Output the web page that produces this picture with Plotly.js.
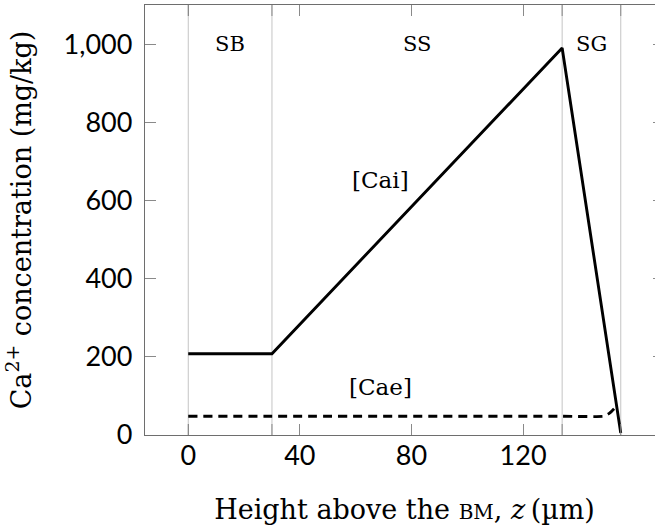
<!DOCTYPE html>
<html>
<head>
<meta charset="utf-8">
<script src="https://cdn.plot.ly/plotly-3.0.1.min.js"></script>
<style>
html,body{margin:0;padding:0;overflow:hidden;background:#fff;width:655px;height:525px;}
#plot{width:664px;height:525px;}
</style>
</head>
<body>
<div id="plot"></div>
<script>
// Data
const caiZ = [0, 30, 134, 155];
const caiVal = [208, 208, 990, 5];
const caeZ = [0, 30, 134, 149, 151, 153.5];
const caeVal = [48, 48, 48, 48, 56, 74];
const zoneBounds = [0, 30, 134, 155];
const zoneNames = ['SB', 'SS', 'SG'];
const xTickVals = [0, 40, 80, 120];
const xTickText = ['0', '40', '80', '120'];
const yTickVals = [0, 200, 400, 600, 800, 1000];
const yTickText = ['0', '200', '400', '600', '800', '1,000'];
const seriesLabels = [
  {text: '[Cai]', z: 69, v: 652},
  {text: '[Cae]', z: 69, v: 123}
];

const serif = 'DejaVu Serif, Liberation Serif, serif';
const tickFont = {family: 'Lato, Noto Sans, sans-serif', size: 27, color: '#000'};
const axisGray = '#6e6e6e';
const tickGray = '#8a8a8a';

const traces = [
  {x: caiZ, y: caiVal, mode: 'lines', line: {color: '#000', width: 2.9}, showlegend: false, hoverinfo: 'skip'},
  {x: caeZ, y: caeVal, mode: 'lines', line: {color: '#000', width: 2.9, dash: '9px,6px', shape: 'spline', smoothing: 0.4}, showlegend: false, hoverinfo: 'skip'}
];

const shapes = [];
zoneBounds.forEach(z => {
  shapes.push({
    type: 'line', xref: 'x', yref: 'paper', x0: z, x1: z, y0: 0, y1: 1,
    line: {color: '#c4c4c4', width: 1}, layer: 'below'
  });
  shapes.push({type: 'line', xref: 'x', yref: 'paper', x0: z, x1: z, y0: 0, y1: 11 / 430,
    line: {color: tickGray, width: 1}});
  shapes.push({type: 'line', xref: 'x', yref: 'paper', x0: z, x1: z, y0: 1 - 11 / 430, y1: 1,
    line: {color: tickGray, width: 1}});
});

const annotations = [];
for (let i = 0; i < zoneNames.length; i++) {
  annotations.push({
    x: (zoneBounds[i] + zoneBounds[i + 1]) / 2, y: 1000, xref: 'x', yref: 'y',
    text: zoneNames[i], showarrow: false,
    font: {family: serif, size: 21, color: '#000'}
  });
}
seriesLabels.forEach(s => annotations.push({
  x: s.z, y: s.v, xref: 'x', yref: 'y', text: s.text, showarrow: false,
  font: {family: serif, size: 23, color: '#000'}
}));

const layout = {
  width: 664, height: 525,
  margin: {l: 145, r: 0, t: 5, b: 90},
  paper_bgcolor: '#fff', plot_bgcolor: '#fff',
  showlegend: false,
  xaxis: {
    range: [-15.5, 170.5], tickmode: 'array', tickvals: xTickVals, ticktext: xTickText,
    ticks: 'inside', ticklen: 11, tickcolor: tickGray, tickwidth: 1,
    showline: true, linecolor: axisGray, linewidth: 1.2, mirror: 'ticks',
    showgrid: false, zeroline: false, tickfont: tickFont, ticklabelstandoff: -4,
    title: {text: 'Height above the <span style="font-size:20px">BM</span>, <i>z</i>\u2009(\u00b5m)', font: {family: serif, size: 27, color: '#000'}, standoff: 30}
  },
  yaxis: {
    range: [0, 1100], tickmode: 'array', tickvals: yTickVals, ticktext: yTickText,
    ticks: 'inside', ticklen: 11, tickcolor: tickGray, tickwidth: 1,
    showline: true, linecolor: axisGray, linewidth: 1.2, mirror: 'ticks',
    showgrid: false, zeroline: false, tickfont: tickFont, ticklabelstandoff: 6,
    title: {text: 'Ca<sup>2+</sup> concentration (mg/kg)', font: {family: serif, size: 27, color: '#000'}, standoff: 24}
  },
  shapes: shapes,
  annotations: annotations
};

Plotly.newPlot('plot', traces, layout, {staticPlot: true, displayModeBar: false});
</script>
</body>
</html>
